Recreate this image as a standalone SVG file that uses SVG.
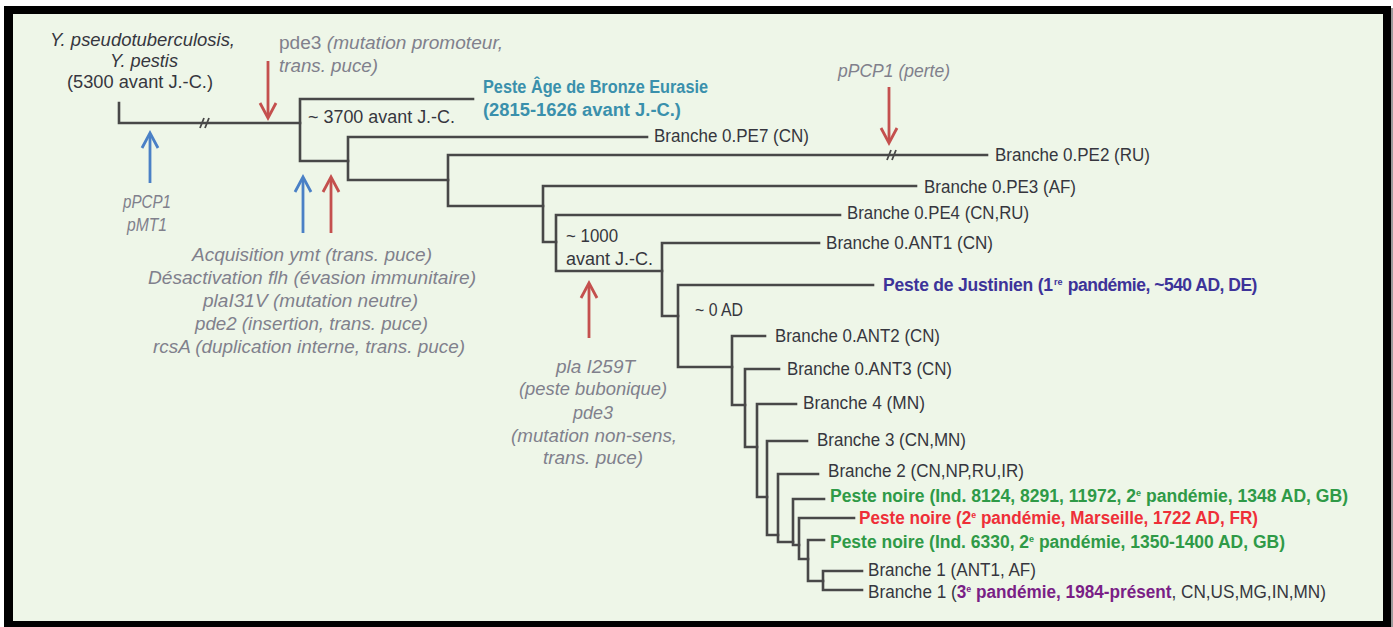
<svg xmlns="http://www.w3.org/2000/svg" width="1393" height="627" viewBox="0 0 1393 627">
<style>
.t{font-family:"Liberation Sans",Arial,sans-serif;font-size:17.5px;fill:#36363e}
.i{font-style:italic}
.g{fill:#80808c;font-style:italic}
.up{font-style:normal}
.b{font-weight:bold}
.teal{fill:#3a90ac}
.jus{fill:#3d3399}
.grn{fill:#2f9a47}
.rd{fill:#ee2f38}
.pur{fill:#7a1f86}
.br{fill:none;stroke:#484848;stroke-width:2.6;stroke-linecap:square;stroke-linejoin:miter}
.brk{fill:none;stroke:#484848;stroke-width:1.8}
.ar{fill:none;stroke-width:2.8}
.red{stroke:#c4504e}
.blue{stroke:#4a80c6}
</style>
<defs>
<polyline id="headUp" points="-8,15 0,0 8,15"/>
<polyline id="headDown" points="-8,-15 0,0 8,-15"/>
</defs>
<rect width="1393" height="627" fill="#ffffff"/>
<rect x="1391" y="8" width="2" height="619" fill="#9a9a9a"/>
<rect x="4" y="6" width="1387" height="621" fill="#000000"/>
<rect x="13" y="14" width="1370" height="607" fill="#EEF6E8"/>

<g id="connectors" class="br">
<path d="M119,103 V123 H300"/>
<path d="M300,99 V161 M300,99 H473 M300,161 H348"/>
<path d="M348,137 V180 M348,137 H647 M348,180 H448"/>
<path d="M448,155 V206 M448,155 H987 M448,206 H543"/>
<path d="M543,186 V242 M543,186 H916 M543,242 H556"/>
<path d="M556,215 V271 M556,215 H840 M556,271 H662"/>
<path d="M662,243 V316 M662,243 H819 M662,316 H678"/>
<path d="M678,285 V367 M678,285 H873 M678,367 H732"/>
<path d="M732,336 V405 M732,336 H765 M732,405 H745"/>
<path d="M745,369 V447 M745,369 H779 M745,447 H757"/>
<path d="M757,404 V497 M757,404 H796 M757,497 H767"/>
<path d="M767,441 V535 M767,441 H807 M767,535 H778"/>
<path d="M778,474 V542 M778,474 H818 M778,542 H793"/>
<path d="M793,499 V545 M793,499 H824 M793,545 H799"/>
<path d="M799,518 V559 M799,518 H854 M799,559 H808"/>
<path d="M808,540 V581 M808,540 H824 M808,581 H823"/>
<path d="M823,571 V590 M823,571 H862 M823,590 H862"/>
</g>
<g id="breaks" class="brk">
<path d="M200,128 L204,118 M205,128 L209,118"/>
<path d="M887,160 L891,150 M892,160 L896,150"/>
</g>

<g id="arrows">
<g class="ar blue"><line x1="150" y1="183" x2="150" y2="134"/><use href="#headUp" x="150" y="133"/></g>
<g class="ar red"><line x1="268" y1="61" x2="268" y2="117"/><use href="#headDown" x="268" y="118"/></g>
<g class="ar blue"><line x1="303" y1="233" x2="303" y2="178"/><use href="#headUp" x="303" y="177"/></g>
<g class="ar red"><line x1="331" y1="233" x2="331" y2="178"/><use href="#headUp" x="331" y="177"/></g>
<g class="ar red"><line x1="589" y1="338" x2="589" y2="284"/><use href="#headUp" x="589" y="283"/></g>
<g class="ar red"><line x1="889" y1="87" x2="889" y2="142"/><use href="#headDown" x="889" y="143"/></g>
</g>

<g id="root" class="t">
<text x="50" y="46" class="i" textLength="185" lengthAdjust="spacingAndGlyphs">Y. pseudotuberculosis,</text>
<text x="110" y="67" class="i" textLength="68" lengthAdjust="spacingAndGlyphs">Y. pestis</text>
<text x="67" y="88" textLength="146" lengthAdjust="spacingAndGlyphs">(5300 avant J.-C.)</text>
</g>
<g id="note-pde3-top" class="t g">
<text x="279" y="49" textLength="224" lengthAdjust="spacingAndGlyphs"><tspan class="up">pde3</tspan> (mutation promoteur,</text>
<text x="279" y="72" textLength="99" lengthAdjust="spacingAndGlyphs">trans. puce)</text>
</g>
<g id="note-ppcp1" class="t g">
<text x="123" y="208" textLength="48" lengthAdjust="spacingAndGlyphs">pPCP1</text>
<text x="127" y="231" textLength="40" lengthAdjust="spacingAndGlyphs">pMT1</text>
</g>
<g id="note-acq" class="t g">
<text x="192" y="261" textLength="240" lengthAdjust="spacingAndGlyphs">Acquisition ymt (trans. puce)</text>
<text x="148" y="284" textLength="328" lengthAdjust="spacingAndGlyphs">Désactivation flh (évasion immunitaire)</text>
<text x="203" y="307" textLength="215" lengthAdjust="spacingAndGlyphs">plaI31V (mutation neutre)</text>
<text x="195" y="330" textLength="233" lengthAdjust="spacingAndGlyphs">pde2 (insertion, trans. puce)</text>
<text x="153" y="353" textLength="312" lengthAdjust="spacingAndGlyphs">rcsA (duplication interne, trans. puce)</text>
</g>
<g id="note-pla" class="t g">
<text x="556" y="373" textLength="79" lengthAdjust="spacingAndGlyphs">pla I259T</text>
<text x="519" y="395" textLength="148" lengthAdjust="spacingAndGlyphs">(peste bubonique)</text>
<text x="573" y="419" textLength="40" lengthAdjust="spacingAndGlyphs">pde3</text>
<text x="511" y="442" textLength="166" lengthAdjust="spacingAndGlyphs">(mutation non-sens,</text>
<text x="543" y="464" textLength="100" lengthAdjust="spacingAndGlyphs">trans. puce)</text>
</g>
<g id="note-perte" class="t g">
<text x="838" y="77" textLength="112" lengthAdjust="spacingAndGlyphs">pPCP1 (perte)</text>
</g>

<g id="node-3700" class="t"><text x="308" y="123" textLength="147" lengthAdjust="spacingAndGlyphs">~ 3700 avant J.-C.</text></g>
<g id="node-bronze" class="t b teal">
<text x="483" y="93" textLength="225" lengthAdjust="spacingAndGlyphs">Peste Âge de Bronze Eurasie</text>
<text x="483" y="116" textLength="198" lengthAdjust="spacingAndGlyphs">(2815-1626 avant J.-C.)</text>
</g>
<g id="node-pe7" class="t"><text x="654" y="142" textLength="155" lengthAdjust="spacingAndGlyphs">Branche 0.PE7 (CN)</text></g>
<g id="node-pe2" class="t"><text x="995" y="161" textLength="155" lengthAdjust="spacingAndGlyphs">Branche 0.PE2 (RU)</text></g>
<g id="node-pe3" class="t"><text x="924" y="193" textLength="152" lengthAdjust="spacingAndGlyphs">Branche 0.PE3 (AF)</text></g>
<g id="node-pe4" class="t"><text x="847" y="219" textLength="182" lengthAdjust="spacingAndGlyphs">Branche 0.PE4 (CN,RU)</text></g>
<g id="node-1000" class="t">
<text x="566" y="242" textLength="52" lengthAdjust="spacingAndGlyphs">~ 1000</text>
<text x="566" y="265" textLength="87" lengthAdjust="spacingAndGlyphs">avant J.-C.</text>
</g>
<g id="node-ant1" class="t"><text x="826" y="249" textLength="167" lengthAdjust="spacingAndGlyphs">Branche 0.ANT1 (CN)</text></g>
<g id="node-justinien" class="t b jus"><text x="883" y="291" letter-spacing="-0.2">Peste de Justinien (1<tspan dx="1" dy="-6" font-size="9" letter-spacing="0">re</tspan><tspan dx="1" dy="6" letter-spacing="-0.5"> pandémie, ~540 AD, DE)</tspan></text></g>
<g id="node-0ad" class="t"><text x="695" y="316" textLength="48" lengthAdjust="spacingAndGlyphs">~ 0 AD</text></g>
<g id="node-ant2" class="t"><text x="775" y="342" textLength="165" lengthAdjust="spacingAndGlyphs">Branche 0.ANT2 (CN)</text></g>
<g id="node-ant3" class="t"><text x="787" y="375" textLength="165" lengthAdjust="spacingAndGlyphs">Branche 0.ANT3 (CN)</text></g>
<g id="node-b4" class="t"><text x="803" y="409" textLength="122" lengthAdjust="spacingAndGlyphs">Branche 4 (MN)</text></g>
<g id="node-b3" class="t"><text x="817" y="446" textLength="149" lengthAdjust="spacingAndGlyphs">Branche 3 (CN,MN)</text></g>
<g id="node-b2" class="t"><text x="828" y="477" textLength="196" lengthAdjust="spacingAndGlyphs">Branche 2 (CN,NP,RU,IR)</text></g>
<g id="node-pn1" class="t b grn"><text x="830" y="502" textLength="518" lengthAdjust="spacingAndGlyphs">Peste noire (Ind. 8124, 8291, 11972, 2<tspan dy="-6" font-size="9">e</tspan><tspan dy="6"> pandémie, 1348 AD, GB)</tspan></text></g>
<g id="node-pn2" class="t b rd"><text x="859" y="524" textLength="399" lengthAdjust="spacingAndGlyphs">Peste noire (2<tspan dy="-6" font-size="9">e</tspan><tspan dy="6"> pandémie, Marseille, 1722 AD, FR)</tspan></text></g>
<g id="node-pn3" class="t b grn"><text x="830" y="548" textLength="455" lengthAdjust="spacingAndGlyphs">Peste noire (Ind. 6330, 2<tspan dy="-6" font-size="9">e</tspan><tspan dy="6"> pandémie, 1350-1400 AD, GB)</tspan></text></g>
<g id="node-b1a" class="t"><text x="868" y="576" textLength="168" lengthAdjust="spacingAndGlyphs">Branche 1 (ANT1, AF)</text></g>
<g id="node-b1b" class="t"><text x="868" y="598" textLength="458" lengthAdjust="spacingAndGlyphs">Branche 1 (<tspan class="b pur">3<tspan dy="-6" font-size="9">e</tspan><tspan dy="6"> pandémie, 1984-présent</tspan></tspan>, CN,US,MG,IN,MN)</text></g>
</svg>
